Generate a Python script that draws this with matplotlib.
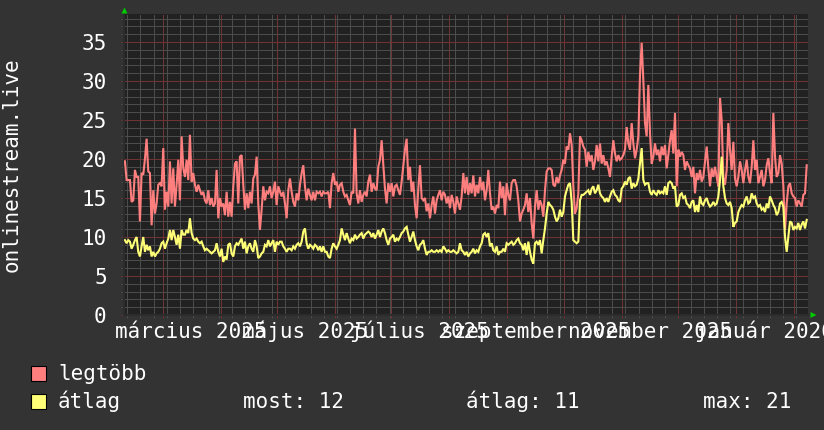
import numpy as np
import matplotlib
matplotlib.use("Agg")
import matplotlib.pyplot as plt
import matplotlib.dates as mdates
import matplotlib.ticker as mticker
from matplotlib.patches import Rectangle, Polygon
from matplotlib.transforms import blended_transform_factory
from datetime import datetime

# ---------------- data ----------------
legtobb = [
    19.7, 17.3, 17.3, 17.3, 14.5, 14.7, 18.6, 17.7, 17.7, 12.0,
    18.2, 18.0, 20.0, 22.6, 18.4, 18.2, 11.5, 16.0, 13.0, 14.3,
    16.7, 16.9, 16.5, 21.4, 13.5, 15.8, 13.9, 19.7, 14.3, 18.8,
    13.9, 16.7, 19.9, 14.7, 22.9, 18.8, 17.7, 19.9, 17.3, 23.1,
    17.1, 18.2, 16.7, 15.8, 16.7, 16.0, 15.4, 15.8, 14.7, 14.3,
    16.0, 14.1, 15.0, 13.9, 14.3, 18.6, 12.4, 15.0, 13.9, 14.3,
    12.8, 15.8, 12.6, 14.5, 12.6, 16.5, 19.4, 19.7, 14.3, 20.3,
    20.5, 16.7, 13.5, 15.6, 13.7, 15.8, 14.3, 17.5, 18.0, 20.3,
    14.3, 10.9, 13.5, 16.5, 14.7, 15.8, 15.6, 16.5, 15.0, 15.8,
    17.1, 14.1, 16.5, 15.8, 15.2, 15.8, 14.3, 12.4, 16.0, 17.5,
    15.8, 14.5, 13.9, 15.6, 14.7, 16.7, 18.2, 19.2, 16.5, 14.7,
    16.2, 15.4, 14.7, 15.8, 14.7, 15.8, 15.6, 15.8, 15.2, 15.8,
    15.6, 15.6, 15.8, 13.7, 16.9, 18.2, 16.7, 17.1, 15.8, 16.7,
    16.9, 15.8, 15.2, 15.4, 14.7, 14.1, 15.8, 15.6, 23.9, 15.6,
    14.3, 16.0, 14.5, 15.4, 15.8, 15.2, 17.1, 18.0, 15.8, 16.9,
    16.2, 16.0, 19.0, 19.9, 22.4, 19.2, 16.2, 14.3, 16.9, 15.8,
    16.9, 15.2, 16.5, 16.7, 16.0, 15.4, 17.1, 19.2, 21.2, 22.6,
    17.3, 19.0, 15.8, 17.1, 14.1, 12.4, 16.2, 19.2, 15.0, 14.7,
    15.0, 13.3, 14.3, 12.4, 14.1, 15.2, 13.0, 14.7, 15.4, 16.0,
    14.7, 15.8, 15.4, 14.3, 15.2, 13.7, 15.4, 14.5, 13.0, 15.2,
    14.3, 13.5, 15.2, 18.2,
    15.6, 17.7, 15.4, 16.9, 15.6, 17.9, 15.2, 16.7, 15.6, 17.7,
    16.0, 17.1, 14.7, 16.0, 18.6, 15.6, 13.5, 13.9, 13.0, 14.1,
    13.7, 17.1, 15.0, 16.5, 12.8, 16.9, 15.4, 14.7, 16.9, 17.3,
    17.3, 16.5, 14.7, 12.0, 13.0, 13.5, 14.1, 15.6, 13.2, 15.0,
    11.8, 9.8, 13.9, 16.0, 13.5, 14.7, 14.1, 12.6, 16.0, 18.4,
    18.8, 18.8, 18.6, 16.7, 16.5, 17.7, 16.9, 17.9, 18.6, 19.9,
    19.4, 21.6, 21.2, 23.3, 21.8, 16.5, 13.0, 13.7, 15.6, 22.9,
    22.4, 21.6, 21.2, 19.0, 20.9, 19.7, 20.5, 18.6, 19.7, 21.8,
    19.7, 22.0, 19.4, 20.5, 19.2, 19.7, 18.8, 17.7, 20.3, 22.4,
    20.7, 19.7, 20.5, 19.9, 20.1, 20.5, 21.2, 24.1, 22.0, 21.2,
    24.6, 22.0, 20.1, 21.2, 22.9, 30.8, 34.9, 30.1, 24.6, 22.9,
    29.5, 23.3, 19.4, 20.3, 22.0, 20.5, 21.2, 19.7, 21.6, 20.5,
    21.8, 18.8, 20.5, 22.4, 23.7, 20.7, 25.9, 16.5, 21.2, 20.3,
    20.9, 20.5, 18.6, 19.7, 19.2, 18.8, 17.7, 19.0, 15.6, 18.2,
    17.3, 18.6, 17.1, 17.7, 19.7, 21.6, 18.8, 16.5, 18.8, 17.7,
    19.0, 17.7, 16.5, 27.8, 25.0, 17.7, 16.7, 18.6, 24.6, 21.2,
    18.6, 22.2, 17.5, 16.5, 17.7, 19.7, 18.6, 16.9, 18.6, 19.9,
    17.7, 16.9, 19.0, 22.4, 18.6, 19.9, 16.9, 17.7, 18.6, 16.5,
    17.3, 19.2, 20.1, 18.2, 16.9, 25.9, 20.3, 17.7, 18.2, 20.5,
    19.4, 16.5, 10.9, 14.3, 16.5, 16.9, 15.6, 15.2, 15.0, 13.9,
    14.7, 14.3, 13.9, 15.4, 15.6, 19.2,
]

atlag = [
    9.6, 9.2, 9.6, 9.4, 8.5, 9.0, 9.6, 10.0, 8.1, 7.5,
    8.8, 10.0, 8.1, 9.0, 8.3, 8.8, 7.5, 8.1, 7.5, 7.9,
    8.1, 8.5, 9.2, 9.4, 8.5, 9.2, 9.8, 10.9, 9.6, 10.9,
    10.0, 9.0, 10.3, 8.5, 10.9, 10.3, 10.3, 10.9, 10.5, 12.4,
    10.5, 9.8, 9.6, 9.8, 9.4, 9.2, 9.4, 8.8, 8.3, 8.5,
    8.3, 8.1, 7.9, 8.1, 8.3, 9.2, 8.1, 7.5, 8.5, 6.8,
    7.5, 7.1, 9.0, 9.2, 7.9, 7.5, 8.8, 9.2, 9.0, 9.4,
    9.8, 8.5, 9.4, 7.9, 8.8, 9.2, 8.5, 8.1, 9.6, 8.8,
    7.3, 7.5, 7.9, 8.1, 9.0, 8.8, 9.6, 8.8, 9.2, 9.6,
    8.1, 9.4, 9.0, 9.4, 9.4, 8.8, 8.5, 8.1, 8.5, 8.5,
    8.3, 8.8, 8.5, 9.0, 9.2, 8.8, 9.4, 10.7, 11.1, 9.2,
    8.5, 9.0, 8.8, 8.5, 9.0, 8.8, 8.3, 8.8, 8.1, 8.8,
    8.1, 8.1, 7.5, 7.3, 8.5, 9.2, 8.8, 8.5, 9.0, 9.6,
    11.1, 10.3, 9.6, 10.5, 9.8, 9.2, 9.8, 9.6, 10.3, 9.8,
    10.0, 10.3, 10.5, 9.8, 10.3, 10.5, 10.7, 10.5, 10.0, 10.5,
    9.8, 10.3, 10.9, 10.0, 10.7, 11.1, 10.5, 9.6, 9.0, 9.8,
    10.0, 10.3, 9.4, 9.8, 9.6, 10.0, 10.5, 10.7, 11.1, 11.3,
    10.3, 9.4, 10.0, 10.7, 9.6, 8.8, 8.3, 9.0, 9.2, 9.6,
    8.5, 7.7, 8.1, 8.1, 8.3, 8.1, 8.1, 8.3, 8.1, 8.3,
    8.1, 8.8, 8.5, 8.1, 8.3, 8.1, 8.1, 8.3, 8.1, 7.9,
    8.1, 9.2, 8.3, 8.1,
    7.7, 8.1, 7.5, 7.9, 8.1, 8.5, 7.9, 8.3, 8.1, 8.8,
    9.2, 10.3, 10.5, 10.0, 10.5, 8.8, 9.2, 8.3, 8.1, 8.8,
    7.7, 8.1, 8.1, 8.5, 8.1, 9.2, 9.0, 9.2, 9.4, 9.0,
    9.2, 9.6, 9.8, 9.2, 9.0, 8.3, 9.2, 7.7, 9.4, 8.1,
    7.1, 6.6, 9.2, 9.4, 9.0, 9.6, 7.9, 9.6, 11.1, 13.0,
    14.5, 14.1, 13.9, 13.5, 12.6, 12.0, 12.4, 13.5, 12.6, 13.2,
    15.2, 16.0, 16.7, 16.9, 14.5, 9.6, 9.4, 9.2, 9.4, 14.7,
    15.4, 15.4, 15.6, 15.8, 16.0, 15.4, 16.2, 16.5, 15.6, 16.0,
    16.7, 15.6, 15.2, 15.0, 14.5, 15.0, 14.5, 15.2, 15.8, 16.0,
    15.4, 15.2, 14.7, 14.5, 16.2, 16.5, 17.1, 16.7, 17.5, 17.7,
    16.2, 16.9, 16.5, 16.7, 17.5, 19.4, 21.4, 17.3, 16.7, 16.9,
    16.9, 15.8, 15.4, 16.0, 15.6, 15.4, 16.0, 15.6, 15.8, 15.6,
    16.5, 15.4, 16.9, 17.1, 16.9, 16.2, 16.5, 13.9, 14.1, 15.4,
    15.6, 15.0, 15.2, 14.3, 14.1, 13.7, 14.5, 14.7, 13.2, 14.1,
    13.2, 15.2, 14.3, 14.1, 14.7, 15.0, 14.3, 13.9, 14.1, 14.5,
    14.1, 14.3, 15.2, 17.3, 20.3, 16.5, 15.0, 14.3, 14.1, 14.5,
    13.7, 11.3, 11.8, 12.0, 13.2, 13.7, 14.1, 13.9, 14.7, 15.2,
    14.3, 14.5, 15.6, 15.0, 15.2, 14.3, 13.9, 14.1, 13.5, 13.7,
    13.2, 14.3, 13.7, 15.2, 14.7, 14.1, 13.7, 12.8, 13.2, 14.3,
    14.5, 13.9, 10.0, 8.1, 10.0, 12.0, 11.8, 10.9, 11.3, 11.1,
    11.8, 10.9, 11.6, 12.0, 11.1, 12.2,
]

y_ticks = [0, 5, 10, 15, 20, 25, 30, 35]
month_labels = ["március 2025", "május 2025", "július 2025",
                "szeptember 2025", "november 2025", "január 2026"]
label_months = [datetime(2025, 3, 1), datetime(2025, 5, 1), datetime(2025, 7, 1),
                datetime(2025, 9, 1), datetime(2025, 11, 1), datetime(2026, 1, 1)]
series_names = ["legtöbb", "átlag"]
stats_text = ["most: 12", "átlag: 11", "max: 21"]
y_title = "onlinestream.live"

# ---------------- style ----------------
W, H = 824, 430
CANVAS = "#333333"
BACK = "#212121"
RED = "#ff7f7f"
YEL = "#ffff77"
MINOR = "#4c4c4c"
MAJOR = "#703232"
FONT = "DejaVu Sans Mono"
FS = 15

plt.rcParams["font.family"] = [FONT, "DejaVu Sans"]

fig = plt.figure(figsize=(W / 100, H / 100), dpi=100, facecolor=CANVAS)
ax = fig.add_axes([124 / W, (H - 315) / H, (808 - 124) / W, (315 - 14) / H])
ax.set_facecolor(BACK)

n = min(len(legtobb), len(atlag))
t_mar1 = mdates.date2num(datetime(2025, 3, 1))
t = np.linspace(t_mar1 - 20.3, t_mar1 + 343.8, n)

ax.plot(t, legtobb[:n], color=RED, lw=1.5, solid_joinstyle="miter", zorder=3)
ax.plot(t, atlag[:n], color=YEL, lw=1.5, solid_joinstyle="miter", zorder=4)

ax.set_xlim(t_mar1 - 20.8, t_mar1 + 344.5)
ax.set_ylim(0, (315 - 14) / 7.8)

ax.xaxis.set_major_locator(mdates.MonthLocator())
ax.xaxis.set_minor_locator(mdates.WeekdayLocator(byweekday=mdates.MO))
ax.yaxis.set_major_locator(mticker.FixedLocator(y_ticks))
ax.yaxis.set_minor_locator(mticker.MultipleLocator(1))

ax.set_axisbelow(True)
ax.grid(which="minor", color=MINOR, linestyle=(0, (1, 1)), linewidth=0.72,
        antialiased=False)
ax.grid(which="major", color=MAJOR, linestyle=(0, (1, 1)), linewidth=0.72,
        antialiased=False)

ax.tick_params(axis="x", which="both", labelbottom=False)
ax.tick_params(which="major", length=2, width=0.72, color=MAJOR, direction="out")
ax.tick_params(which="minor", length=2, width=0.72, color=MINOR, direction="out")
ax.tick_params(axis="y", which="major", labelcolor="white", labelsize=FS, pad=10.5)
for lab in ax.get_yticklabels():
    lab.set_fontfamily(FONT)

for s in ["top", "right"]:
    ax.spines[s].set_visible(False)
for s in ["left", "bottom"]:
    ax.spines[s].set_color("#2c2c2c")
    ax.spines[s].set_linewidth(1.5)

# month labels centred half a month after the month start
tr = blended_transform_factory(ax.transData, fig.transFigure)
for d, lab in zip(label_months, month_labels):
    ax.text(mdates.date2num(d) + 15, 1 - 338 / H, lab, transform=tr,
            ha="center", va="baseline", color="white", fontsize=FS,
            fontfamily=FONT, clip_on=False)

# y title
fig.text(12 / W, 1 - 165 / H, y_title, rotation=90, ha="center", va="center",
         color="white", fontsize=FS, fontfamily=FONT)

# green arrows
fig.add_artist(Polygon([[121.5 / W, 1 - 13.5 / H], [127.5 / W, 1 - 13.5 / H],
                        [124.5 / W, 1 - 7.5 / H]], closed=True,
                       transform=fig.transFigure, color="#00cc00", lw=0))
fig.add_artist(Polygon([[810.5 / W, 1 - 312 / H], [810.5 / W, 1 - 318 / H],
                        [816.5 / W, 1 - 315 / H]], closed=True,
                       transform=fig.transFigure, color="#00cc00", lw=0))

# legend
for i, (name, col) in enumerate(zip(series_names, [RED, YEL])):
    top = 366 + i * 28
    fig.add_artist(Rectangle((31 / W, 1 - (top + 15) / H), 15 / W, 15 / H,
                             transform=fig.transFigure, facecolor=col,
                             edgecolor="black", lw=0.8))
    fig.text(58 / W, 1 - (top + 14.5) / H, name, ha="left", va="baseline",
             color="white", fontsize=FS, fontfamily=FONT)

for x0, s in zip([243, 466, 703], stats_text):
    fig.text(x0 / W, 1 - 408.5 / H, s, ha="left", va="baseline",
             color="white", fontsize=FS, fontfamily=FONT)

fig.savefig("out.png", dpi=100, facecolor=CANVAS)
